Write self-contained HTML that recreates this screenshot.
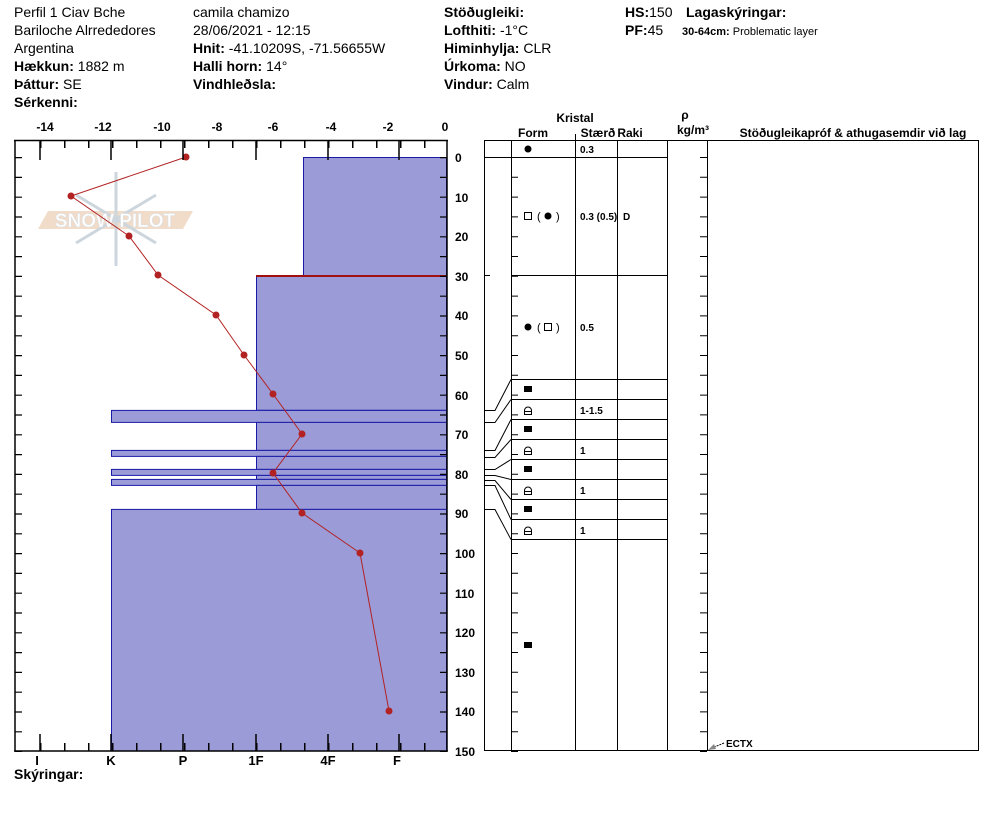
<!DOCTYPE html>
<html><head><meta charset="utf-8"><style>
body{margin:0;background:#fff;}
svg{display:block;font-family:"Liberation Sans",Arial,sans-serif;}
.b{font-weight:bold}
</style></head><body>
<svg width="994" height="840" viewBox="0 0 994 840" xmlns="http://www.w3.org/2000/svg">
<g font-size="14" fill="#000">
<text x="14" y="17">Perfil 1 Ciav Bche</text>
<text x="14" y="35">Bariloche Alrrededores</text>
<text x="14" y="53">Argentina</text>
<text x="14" y="71"><tspan class="b">Hækkun:</tspan> 1882 m</text>
<text x="14" y="89"><tspan class="b">Þáttur:</tspan> SE</text>
<text x="14" y="107" class="b">Sérkenni:</text>
<text x="193" y="17">camila chamizo</text>
<text x="193" y="35">28/06/2021 - 12:15</text>
<text x="193" y="53"><tspan class="b">Hnit:</tspan> -41.10209S, -71.56655W</text>
<text x="193" y="71"><tspan class="b">Halli horn:</tspan> 14°</text>
<text x="193" y="89" class="b">Vindhleðsla:</text>
<text x="444" y="17" class="b">Stöðugleiki:</text>
<text x="444" y="35"><tspan class="b">Lofthiti:</tspan> -1°C</text>
<text x="444" y="53"><tspan class="b">Himinhylja:</tspan> CLR</text>
<text x="444" y="71"><tspan class="b">Úrkoma:</tspan> NO</text>
<text x="444" y="89"><tspan class="b">Vindur:</tspan>  Calm</text>
<text x="625" y="17"><tspan class="b">HS:</tspan>150</text>
<text x="625" y="35"><tspan class="b">PF:</tspan>45</text>
<text x="686" y="17" class="b">Lagaskýringar:</text>
<text x="682" y="35" font-size="11"><tspan class="b">30-64cm:</tspan> Problematic layer</text>
<text x="14" y="779" class="b">Skýringar:</text>
</g>
<!-- temp axis labels -->
<g font-size="12" font-weight="bold" text-anchor="middle">
<text x="45" y="131">-14</text><text x="103" y="131">-12</text><text x="162" y="131">-10</text><text x="217" y="131">-8</text><text x="273" y="131">-6</text><text x="331" y="131">-4</text><text x="388" y="131">-2</text><text x="445" y="131">0</text>
</g>
<!-- watermark -->
<g opacity="0.9">
<polygon points="48,211 193,211 183,229 38,229" fill="#f0d9c4"/>
<g stroke="#c8d2da" stroke-width="3" fill="none">
<line x1="116" y1="172" x2="116" y2="266"/><line x1="76" y1="195" x2="156" y2="243"/><line x1="76" y1="243" x2="156" y2="195"/>
</g>
<text x="115" y="227" text-anchor="middle" font-size="19" font-weight="bold" fill="#fff" stroke="#d8dde2" stroke-width="0.6">SNOW PILOT</text>
</g>
<!-- hardness bars -->
<g fill="#9b9bd7" stroke="#1a1aa8" stroke-width="1">
<rect x="303.5" y="157.5" width="143" height="118.8"/>
<rect x="256.5" y="276.3" width="190" height="134"/>
<rect x="111.5" y="410.4" width="335" height="12"/>
<rect x="256.5" y="422.4" width="190" height="28"/>
<rect x="111.5" y="450.4" width="335" height="6"/>
<rect x="256.5" y="456.4" width="190" height="13"/>
<rect x="111.5" y="469.4" width="335" height="6"/>
<rect x="256.5" y="475.4" width="190" height="4"/>
<rect x="111.5" y="479.4" width="335" height="6"/>
<rect x="256.5" y="485.4" width="190" height="24"/>
<rect x="111.5" y="509.4" width="335" height="241.6"/>
</g>
<line x1="256" y1="276" x2="447" y2="276" stroke="#a01010" stroke-width="2"/>
<!-- temperature -->
<polyline fill="none" stroke="#b22222" stroke-width="1" points="186,157 71,196 129,236 158,275 216,315 244,355 273,394 302,434 273,473 302,513 360,553 389,711"/>
<g fill="#b22222">
<circle cx="186" cy="157" r="3.5"/><circle cx="71" cy="196" r="3.5"/><circle cx="129" cy="236" r="3.5"/><circle cx="158" cy="275" r="3.5"/><circle cx="216" cy="315" r="3.5"/><circle cx="244" cy="355" r="3.5"/><circle cx="273" cy="394" r="3.5"/><circle cx="302" cy="434" r="3.5"/><circle cx="273" cy="473" r="3.5"/><circle cx="302" cy="513" r="3.5"/><circle cx="360" cy="553" r="3.5"/><circle cx="389" cy="711" r="3.5"/>
</g>
<!-- left frame -->
<g stroke="#000" stroke-width="1.5" fill="none">
<line x1="15" y1="140" x2="15" y2="751"/>
<line x1="447" y1="140" x2="447" y2="751"/>
<line x1="14" y1="140.5" x2="448" y2="140.5"/>
<line x1="14" y1="751" x2="448" y2="751"/>
</g>
<g stroke="#000" stroke-width="1.5">
<line x1="40" y1="144" x2="447" y2="144" stroke-width="8" stroke-dasharray="1.5 22.5"/>
<line x1="40" y1="747" x2="447" y2="747" stroke-width="8" stroke-dasharray="1.5 22.5"/>
<line x1="40" y1="140" x2="40" y2="160"/><line x1="111" y1="140" x2="111" y2="160"/><line x1="183" y1="140" x2="183" y2="160"/><line x1="256" y1="140" x2="256" y2="160"/><line x1="328" y1="140" x2="328" y2="160"/><line x1="399" y1="140" x2="399" y2="160"/>
<line x1="40" y1="734" x2="40" y2="751"/><line x1="111" y1="734" x2="111" y2="751"/><line x1="183" y1="734" x2="183" y2="751"/><line x1="256" y1="734" x2="256" y2="751"/><line x1="328" y1="734" x2="328" y2="751"/><line x1="399" y1="734" x2="399" y2="751"/>
<line x1="443.5" y1="157" x2="443.5" y2="752" stroke-width="7" stroke-dasharray="1.2 18.6"/>
<line x1="18.5" y1="157" x2="18.5" y2="752" stroke-width="7" stroke-dasharray="1.2 18.6"/>
</g>
<g font-size="13" font-weight="bold" text-anchor="middle">
<text x="37" y="765">I</text><text x="111" y="765">K</text><text x="183" y="765">P</text><text x="256" y="765">1F</text><text x="328" y="765">4F</text><text x="397" y="765">F</text>
</g>
<g font-size="12" font-weight="bold">
<text x="455" y="162">0</text><text x="455" y="202">10</text><text x="455" y="241">20</text><text x="455" y="281">30</text><text x="455" y="320">40</text><text x="455" y="360">50</text><text x="455" y="400">60</text><text x="455" y="439">70</text><text x="455" y="479">80</text><text x="455" y="518">90</text><text x="455" y="558">100</text><text x="455" y="598">110</text><text x="455" y="637">120</text><text x="455" y="677">130</text><text x="455" y="716">140</text><text x="455" y="756">150</text>
</g>
<!-- right table -->
<g font-size="12" font-weight="bold" text-anchor="middle">
<text x="575" y="122">Kristal</text>
<text x="533" y="137">Form</text>
<text x="598" y="137">Stærð</text>
<text x="630" y="137">Raki</text>
<text x="685" y="119">ρ</text>
<text x="693" y="134">kg/m³</text>
<text x="853" y="137">Stöðugleikapróf &amp; athugasemdir við lag</text>
</g>
<g stroke="#000" stroke-width="1" fill="none">
<rect x="484.5" y="140.5" width="494" height="610"/>
<line x1="511.5" y1="140" x2="511.5" y2="751"/>
<line x1="575.5" y1="140" x2="575.5" y2="751"/>
<line x1="617.5" y1="140" x2="617.5" y2="751"/>
<line x1="667.5" y1="140" x2="667.5" y2="751"/>
<line x1="707.5" y1="140" x2="707.5" y2="751"/>
<line x1="575.5" y1="134" x2="575.5" y2="140"/>
<line x1="484" y1="157.5" x2="667" y2="157.5"/>
<line x1="511" y1="275.5" x2="667" y2="275.5"/>
<line x1="511" y1="379.5" x2="667" y2="379.5"/>
<line x1="511" y1="399.5" x2="667" y2="399.5"/>
<line x1="511" y1="419.5" x2="667" y2="419.5"/>
<line x1="511" y1="439.5" x2="667" y2="439.5"/>
<line x1="511" y1="459.5" x2="667" y2="459.5"/>
<line x1="511" y1="479.5" x2="667" y2="479.5"/>
<line x1="511" y1="499.5" x2="667" y2="499.5"/>
<line x1="511" y1="519.5" x2="667" y2="519.5"/>
<line x1="511" y1="539.5" x2="667" y2="539.5"/>
<line x1="514.5" y1="157" x2="514.5" y2="752" stroke-width="7" stroke-dasharray="1 18.8"/>
<line x1="703.5" y1="157" x2="703.5" y2="752" stroke-width="7" stroke-dasharray="1 18.8"/>
<line x1="484" y1="275.5" x2="490" y2="275.5"/>
<polyline points="484,410.5 495,410.5 511,379.5"/>
<polyline points="484,422.5 495,422.5 511,399.5"/>
<polyline points="484,450.5 495,450.5 511,419.5"/>
<polyline points="484,457.5 495,457.5 511,439.5"/>
<polyline points="484,469.5 495,469.5 511,459.5"/>
<polyline points="484,475.5 495,475.5 511,479.5"/>
<polyline points="484,480.5 495,480.5 511,499.5"/>
<polyline points="484,485.5 495,485.5 511,519.5"/>
<polyline points="484,509.5 495,509.5 511,539.5"/>
</g>
<g font-size="10" font-weight="bold">
<circle cx="528" cy="149" r="3.5"/>
<text x="580" y="153">0.3</text>
<rect x="524.5" y="212.5" width="7" height="7" fill="none" stroke="#000"/>
<text x="537" y="220" font-size="11" font-weight="normal">(</text><circle cx="548" cy="216" r="3.5"/><text x="556" y="220" font-size="11" font-weight="normal">)</text>
<text x="580" y="220">0.3 (0.5)</text>
<text x="623" y="220">D</text>
<circle cx="528" cy="327" r="3.5"/>
<text x="537" y="331" font-size="11" font-weight="normal">(</text><rect x="544.5" y="323.5" width="7" height="7" fill="none" stroke="#000"/><text x="556" y="331" font-size="11" font-weight="normal">)</text>
<text x="580" y="331">0.5</text>
<rect x="524" y="386" width="8" height="6"/>
<rect x="524" y="426" width="8" height="6"/>
<rect x="524" y="466" width="8" height="6"/>
<rect x="524" y="506" width="8" height="6"/>
<rect x="524" y="642" width="8" height="6"/>
<g fill="none" stroke="#000" stroke-width="1">
<path d="M524.5,414.5 v-4 a3.5,3.5 0 0 1 7,0 v4 z M524.5,411.5 h7"/>
<path d="M524.5,454.5 v-4 a3.5,3.5 0 0 1 7,0 v4 z M524.5,451.5 h7"/>
<path d="M524.5,494.5 v-4 a3.5,3.5 0 0 1 7,0 v4 z M524.5,491.5 h7"/>
<path d="M524.5,534.5 v-4 a3.5,3.5 0 0 1 7,0 v4 z M524.5,531.5 h7"/>
</g>
<text x="580" y="414">1-1.5</text>
<text x="580" y="454">1</text>
<text x="580" y="494">1</text>
<text x="580" y="534">1</text>
<text x="726" y="747">ECTX</text>
</g>
<line x1="724" y1="743" x2="712" y2="748" stroke="#000" stroke-dasharray="2 1"/>
<polygon points="708,750 714,744 716,749" fill="#888"/>
</svg>
</body></html>
